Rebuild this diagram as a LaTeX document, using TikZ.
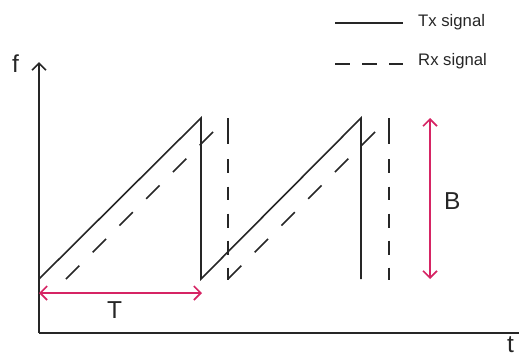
\documentclass[tikz,border=0pt]{standalone}
\usepackage{fontspec}
\setmainfont{Liberation Sans}
\usetikzlibrary{arrows.meta}
\definecolor{pinkarr}{RGB}{214,36,100}
\begin{document}
\begin{tikzpicture}[x=1pt,y=-1pt,
  tx/.style={line width=1.6pt,black!85},
  rxdiag/.style={line width=1.6pt,black!85,dash pattern=on 18.9pt off 18.9pt},
  rxvert/.style={line width=1.6pt,black!85,dash pattern=on 26pt off 15pt on 14pt off 13.5pt on 13.5pt off 13.5pt on 14pt off 13pt on 14pt off 13pt on 13pt off 20pt},
  axis/.style={line width=1.6pt,black!85},
  dim/.style={line width=1.6pt,pinkarr,{Straight Barb[length=7pt,width=14pt]}-{Straight Barb[length=7pt,width=14pt]}},
  legtxt/.style={inner sep=0pt,anchor=base west,font=\fontsize{16.7}{20}\selectfont,text=black!85},
  bigtxt/.style={inner sep=0pt,anchor=base west,font=\fontsize{24.5}{28}\selectfont,text=black!85}]
\useasboundingbox (0,0) rectangle (519,356);
% axes
\coordinate (O) at (39,333);
\coordinate (Ytop) at (39,62);
\coordinate (Xend) at (525,333);
\draw[axis,-{Straight Barb[length=7pt,width=14pt]}] (O) -- (Ytop);
\draw[axis] (O) -- (Xend);
\node[bigtxt] (flab) at (12,72) {f};
\node[bigtxt] (tlab) at (507,352) {t};
% Tx signal
\draw[tx] (39,279) -- (201,118) -- (201,279) -- (361,118) -- (361,279);
% Rx signal
\draw[rxdiag] (66,279) -- (213,132);
\draw[rxvert] (228,118) -- (228,280);
\draw[rxdiag] (228,279) -- (375,132);
\draw[rxvert] (389,118) -- (389,280);
% dimensions
\coordinate (Bt) at (430,118);
\coordinate (Bb) at (430,279);
\draw[dim] (Bt) -- (Bb);
\node[bigtxt] (Blab) at (444,209) {B};
\coordinate (Tl) at (39,293);
\coordinate (Tr) at (202,293);
\draw[dim] (Tl) -- (Tr);
\node[bigtxt] (Tlab) at (107,318) {T};
% legend
\coordinate (L1a) at (335,23);
\coordinate (L1b) at (403,23);
\draw[line width=2pt,black!85] (L1a) -- (L1b);
\node[legtxt] (txl) at (418,26) {Tx signal};
\coordinate (L2a) at (335,64);
\coordinate (L2b) at (403,64);
\draw[line width=2pt,black!85,dash pattern=on 14.5pt off 12.5pt] (L2a) -- (L2b);
\node[legtxt] (rxl) at (418,65) {Rx signal};
\end{tikzpicture}
\end{document}
